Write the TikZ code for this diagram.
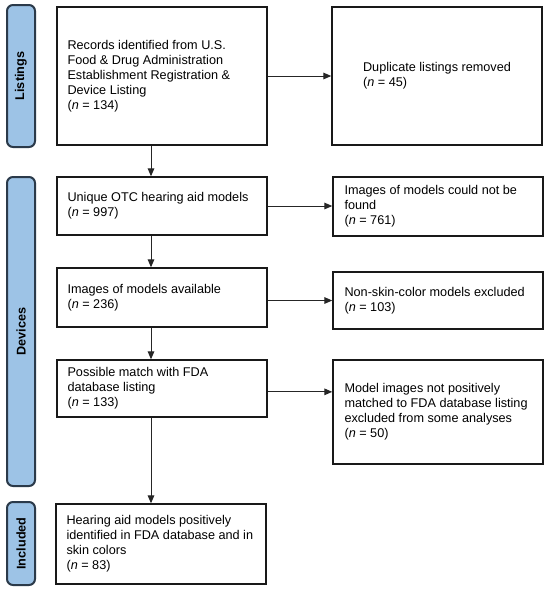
\documentclass[tikz,border=0pt]{standalone}
\usepackage{fontspec}
\setmainfont{Liberation Sans}
\usetikzlibrary{arrows.meta}
\definecolor{sidefill}{HTML}{9DC3E6}
\definecolor{sideline}{HTML}{2B3A4A}
\begin{document}
\begin{tikzpicture}[x=0.75pt,y=-0.75pt,
  box/.style={draw=black!90,line width=1.1pt,fill=white,anchor=center,
    inner sep=0pt,minimum width=157.5pt},
  txt/.style={align=left,inner sep=0pt,anchor=west,
    font=\fontsize{9.5}{11.25}\selectfont},
  side/.style={draw=sideline,line width=1.5pt,fill=sidefill,rounded corners=4.5pt,
    minimum height=21pt,inner sep=0pt,rotate=90,anchor=center,
    font=\fontsize{9.5}{11.25}\selectfont\bfseries},
  arr/.style={draw=black!85,line width=0.75pt,-{Triangle[length=6pt,width=5pt]}}]
\useasboundingbox (0,0) rectangle (550,594);
% sidebars (rotated: minimum width is along the text)
\node[side,minimum width=106.5pt] (sl) at (21,76) {Listings};
\node[side,minimum width=231.75pt] (sd) at (21,331.5) {Devices};
\node[side,minimum width=62.25pt] (si) at (21,543.5) {Included};
% left column boxes
\node[box,minimum height=103.5pt] (rec) at (162,76) {};
\node[box,minimum height=43.5pt] (uni) at (162,206) {};
\node[box,minimum height=44.25pt] (img) at (162,297.5) {};
\node[box,minimum height=42.75pt] (pos) at (162,388.5) {};
\node[box,minimum height=60pt] (hear) at (161,544) {};
% right column boxes
\node[box,minimum height=103.5pt] (dup) at (437,76) {};
\node[box,minimum height=44.25pt] (nf) at (438,206.5) {};
\node[box,minimum height=42.75pt] (ns) at (438,300.5) {};
\node[box,minimum height=78pt] (mi) at (438,412) {};
% texts
\node[txt] (trec) at ([xshift=8.25pt]rec.west)
  {Records identified from U.S.\\Food \& Drug Administration\\Establishment Registration \&\\Device Listing\\(\textit{n} = 134)};
\node[txt] (tuni) at ([xshift=8.25pt]uni.west)
  {Unique OTC hearing aid models\\(\textit{n} = 997)};
\node[txt] (timg) at ([xshift=8.25pt]img.west)
  {Images of models available\\(\textit{n} = 236)};
\node[txt] (tpos) at ([xshift=8.25pt]pos.west)
  {Possible match with FDA\\database listing\\(\textit{n} = 133)};
\node[txt] (thear) at ([xshift=8.25pt]hear.west)
  {Hearing aid models positively\\identified in FDA database and in\\skin colors\\(\textit{n} = 83)};
\node[txt,anchor=center] (tdup) at (dup.center)
  {Duplicate listings removed\\(\textit{n} = 45)};
\node[txt] (tnf) at ([xshift=9pt]nf.west)
  {Images of models could not be\\found\\(\textit{n} = 761)};
\node[txt] (tns) at ([xshift=9pt]ns.west)
  {Non-skin-color models excluded\\(\textit{n} = 103)};
\node[txt] (tmi) at ([xshift=9pt]mi.west)
  {Model images not positively\\matched to FDA database listing\\excluded from some analyses\\(\textit{n} = 50)};
% spine
\coordinate (spine) at (151,0);
\draw[arr] (rec.south -| spine) -- (uni.north -| spine);
\draw[arr] (uni.south -| spine) -- (img.north -| spine);
\draw[arr] (img.south -| spine) -- (pos.north -| spine);
\draw[arr] (pos.south -| spine) -- (hear.north -| spine);
% side arrows
\draw[arr] (rec.east) -- (dup.west);
\draw[arr] (uni.east) -- (uni.east -| nf.west);
\draw[arr] ([yshift=-2.25pt]img.east) -- ([yshift=-2.25pt]img.east -| ns.west);
\draw[arr] ([yshift=-2.5pt]pos.east) -- ([yshift=-2.5pt]pos.east -| mi.west);
\end{tikzpicture}
\end{document}
